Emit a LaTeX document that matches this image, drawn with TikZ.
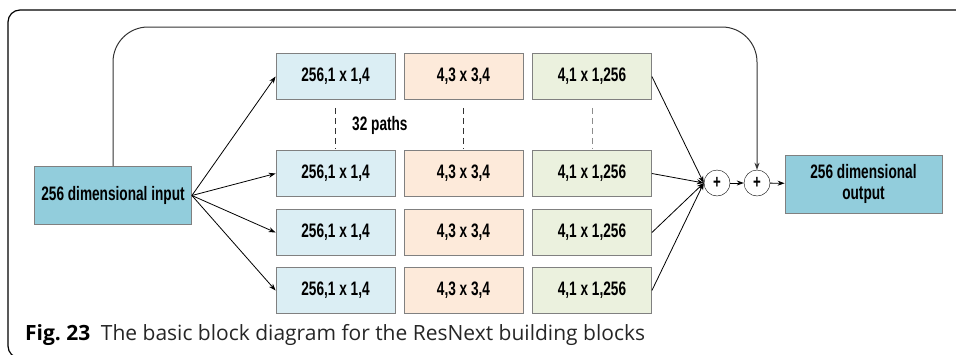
\documentclass[tikz,border=0pt]{standalone}
\usepackage{fontspec}
\usepackage{tikz}
\usetikzlibrary{arrows.meta,positioning}
\newfontfamily\boxfont[FakeStretch=0.7]{Liberation Sans}
\newfontfamily\capfont{Open Sans}
\definecolor{inblue}{HTML}{92CDDC}
\definecolor{cola}{HTML}{DBEEF4}
\definecolor{colb}{HTML}{FDEADA}
\definecolor{colc}{HTML}{EBF1DE}
\definecolor{edgegray}{HTML}{808080}
\tikzset{
  blk/.style={draw=edgegray,line width=0.8pt,minimum width=119pt,minimum height=46pt,inner sep=0pt,font=\boxfont\bfseries\fontsize{19.5}{21}\selectfont},
  iobox/.style={blk,fill=inblue,minimum width=157pt,minimum height=58pt,align=center},
  sumnode/.style={circle,draw,fill=white,minimum size=26pt,inner sep=0pt,font=\boxfont\bfseries\fontsize{19}{19}\selectfont},
  conn/.style={line width=0.8pt,-{Stealth[length=7pt,width=5pt]}},
  sep/.style={dash pattern=on 6pt off 4pt,line width=0.8pt,shorten <=8pt,shorten >=2pt}
}
\begin{document}
\begin{tikzpicture}[x=1pt,y=-1pt]
              \useasboundingbox (0,0) rectangle (956,354);
              % outer frame
              \draw[line width=1.2pt,rounded corners=12pt](956,10)--(8,10)--(8,358)--(40,358);
              % input and output
              \node[iobox](inp)at(113,195.5){256 dimensional input};
              \node[iobox](out)at(863.5,184){256 dimensional\\output};
              % first path
              \node[blk,fill=cola](a1)at(335.5,76.5){256,1 x 1,4};
              \node[blk,fill=colb](b1)at(463.5,76.5){4,3 x 3,4};
              \node[blk,fill=colc](c1)at(592,76.5){4,1 x 1,256};
              % other paths
              \node[blk,fill=cola](a2)at(335.5,173.5){256,1 x 1,4};
              \node[blk,fill=colb](b2)at(463.5,173.5){4,3 x 3,4};
              \node[blk,fill=colc](c2)at(592,173.5){4,1 x 1,256};
              \node[blk,fill=cola](a3)at(335.5,232.5){256,1 x 1,4};
              \node[blk,fill=colb](b3)at(463.5,232.5){4,3 x 3,4};
              \node[blk,fill=colc](c3)at(592,232.5){4,1 x 1,256};
              \node[blk,fill=cola](a4)at(335.5,290.5){256,1 x 1,4};
              \node[blk,fill=colb](b4)at(463.5,290.5){4,3 x 3,4};
              \node[blk,fill=colc](c4)at(592,290.5){4,1 x 1,256};
              % dashed separators
              \draw[sep,black!80](a1)--(a2);
              \draw[sep,black!80](b1)--(b2);
              \draw[sep,black!45](c1)--(c2);
              \node[anchor=west,inner sep=0pt,font=\boxfont\bfseries\fontsize{19.5}{21}\selectfont](np)at(352,125){32 paths};
              % sums
              \node[sumnode](s1)at(717,183){+};
              \node[sumnode](s2)at(757,183){+};
              % connectors
              \draw[conn](inp.east)--(a1.west);
              \draw[conn](inp.east)--(a2.west);
              \draw[conn](inp.east)--(a3.west);
              \draw[conn](inp.east)--(a4.west);
              \draw[conn](c1.east)--(s1.west);
              \draw[conn](c2.east)--(s1.west);
              \draw[conn](c3.east)--(s1.west);
              \draw[conn](c4.east)--(s1.west);
              \draw[conn](s1)--(s2);
              \draw[conn](s2)--(out);
              % identity shortcut
              \draw[conn,line width=1pt,black!80,rounded corners=35pt](inp.north)--(113,27)--(757,27)--(s2.north);
              % caption
              \node[anchor=base west,inner sep=0pt,font=\capfont\fontsize{21}{24}\selectfont,text=black!85](cap)at(25,340){\textbf{\color{black}Fig.~23}\enspace The basic block diagram for the ResNext building blocks};
\end{tikzpicture}
\end{document}
